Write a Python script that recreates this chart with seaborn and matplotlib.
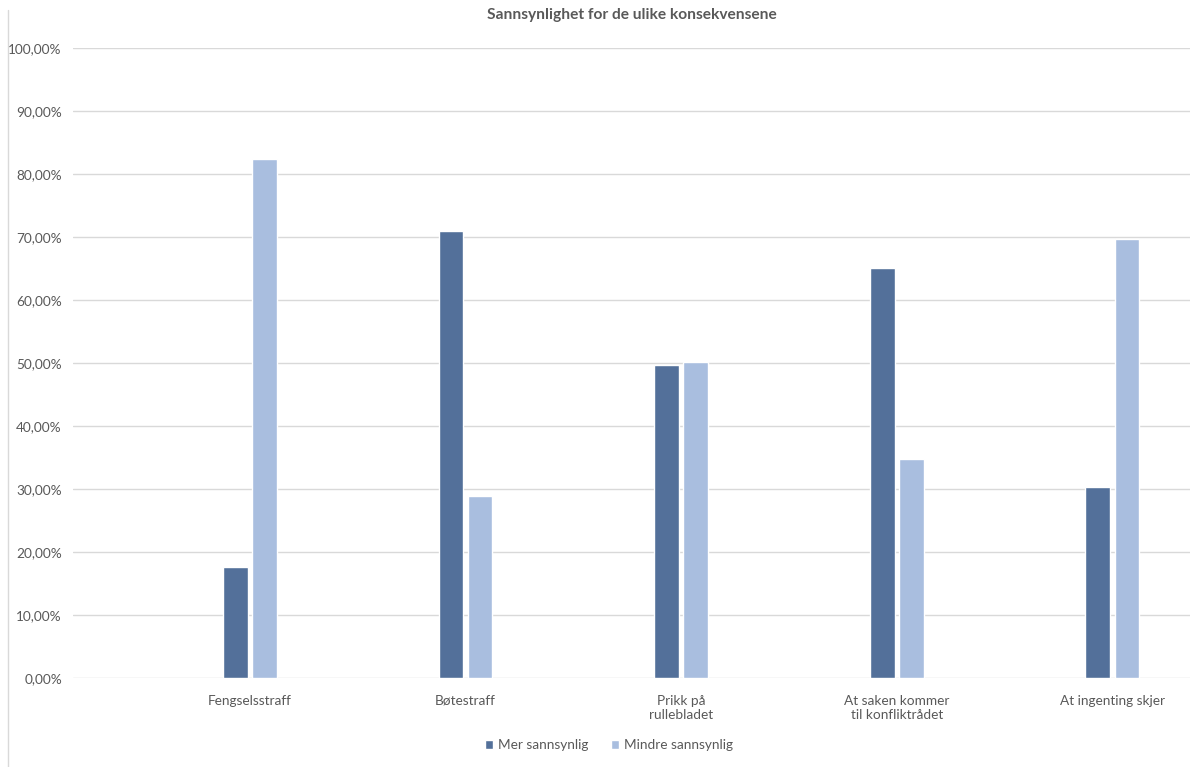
import matplotlib
matplotlib.use("Agg")
import matplotlib.pyplot as plt
from matplotlib.lines import Line2D
from matplotlib.ticker import FuncFormatter, MultipleLocator
import pandas as pd
import seaborn as sns

# ---------------------------------------------------------------------------
# Data (in percent)
# ---------------------------------------------------------------------------
CATEGORIES = [
    "Fengselsstraff",
    "Bøtestraff",
    "Prikk på\nrullebladet",
    "At saken kommer\ntil konfliktrådet",
    "At ingenting skjer",
]
SERIES = ["Mer sannsynlig", "Mindre sannsynlig"]
MER = [17.6, 71.0, 49.8, 65.2, 30.3]
MINDRE = [82.4, 29.0, 50.2, 34.8, 69.7]

TITLE = "Sannsynlighet for de ulike konsekvensene"
COLORS = ["#53709A", "#A9BEDF"]
TEXT = "#595959"
GRID = "#D9D9D9"

df = pd.DataFrame({
    "kategori": CATEGORIES * 2,
    "serie": [SERIES[0]] * len(MER) + [SERIES[1]] * len(MINDRE),
    "verdi": MER + MINDRE,
})

sns.set_theme(style="white")
plt.rcParams["font.family"] = ["Lato", "DejaVu Sans"]

fig = plt.figure(figsize=(12.02, 7.67), dpi=100)
ax = fig.add_axes([73 / 1202, 1 - 678.3 / 767, 1117 / 1202, 630 / 767])

sns.barplot(data=df, x="kategori", y="verdi", hue="serie",
            palette=COLORS, width=0.27, gap=0.15, ax=ax,
            saturation=1, legend=True)

ax.set_xlim(-0.82, 4.36)
ax.set_ylim(0, 100)
ax.yaxis.set_major_locator(MultipleLocator(10))
ax.yaxis.set_major_formatter(FuncFormatter(lambda v, _: f"{v:.2f}%".replace(".", ",")))
ax.grid(axis="y", color=GRID, linewidth=1)
ax.set_axisbelow(True)
for s in ax.spines.values():
    s.set_visible(False)
ax.tick_params(axis="y", length=0, pad=8, labelsize=9.8, labelcolor=TEXT)
ax.tick_params(axis="x", length=0, pad=12, labelsize=9.8, labelcolor=TEXT)
ax.set_xlabel("")
ax.set_ylabel("")

ax.set_title(TITLE, fontsize=11.2, fontweight="bold", color=TEXT, pad=21)

handles, labels = ax.get_legend_handles_labels()
ax.legend(handles, labels, loc="center", bbox_to_anchor=(609 / 1202, 1 - 745 / 767),
          bbox_transform=fig.transFigure, ncol=2, frameon=False,
          handlelength=0.6, handleheight=0.6, handletextpad=0.4,
          columnspacing=1.6, fontsize=9.8, labelcolor=TEXT)

# thin frame line at the left edge, as in the original screenshot
fig.add_artist(Line2D([8 / 1202, 8 / 1202], [0, 1 - 10 / 767],
                      transform=fig.transFigure, color=GRID, linewidth=1))

fig.savefig("out.png", dpi=100)
